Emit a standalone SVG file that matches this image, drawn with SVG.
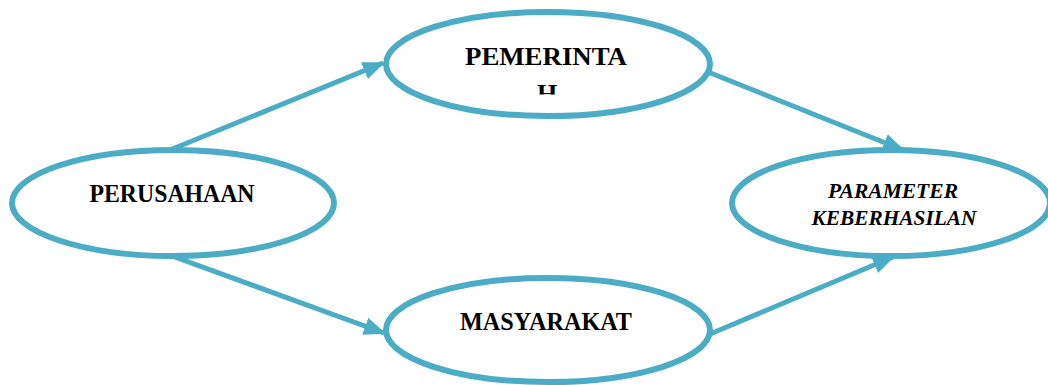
<svg xmlns="http://www.w3.org/2000/svg" width="1048" height="385" viewBox="0 0 1048 385">
<style>
.node{fill:#fff;stroke:#4BACC6;stroke-width:6}
.lbl{font-family:"Liberation Serif","Times New Roman",serif;font-weight:bold;font-size:26px;fill:#000;text-anchor:middle}
.it{font-style:italic;font-size:22px}
.conn{stroke:#4BACC6;stroke-width:5;fill:none;marker-end:url(#ah)}
</style>
<defs>
<marker id="ah" markerUnits="userSpaceOnUse" markerWidth="22" markerHeight="20" refX="20" refY="9" orient="auto">
<path d="M0,0 L22,9 L0,18 z" fill="#4BACC6"/>
</marker>
<clipPath id="clipH"><rect x="380" y="70" width="340" height="24.5"/></clipPath>
</defs>
<g id="connectors">
<line class="conn" x1="170" y1="150" x2="383" y2="63"/>
<line class="conn" x1="708" y1="72" x2="903" y2="150"/>
<line class="conn" x1="172" y1="256" x2="384" y2="333"/>
<line class="conn" x1="710" y1="334" x2="893" y2="257"/>
</g>
<g id="perusahaan">
<ellipse class="node" cx="173" cy="203" rx="161" ry="53"/>
<text class="lbl" x="172" y="202" textLength="165" lengthAdjust="spacingAndGlyphs">PERUSAHAAN</text>
</g>
<g id="pemerintah">
<ellipse class="node" cx="548" cy="64" rx="162" ry="52"/>
<text class="lbl" x="546" y="65" textLength="162" lengthAdjust="spacingAndGlyphs">PEMERINTA</text>
<text class="lbl" x="547" y="102" clip-path="url(#clipH)">H</text>
</g>
<g id="masyarakat">
<ellipse class="node" cx="548" cy="330" rx="162" ry="52"/>
<text class="lbl" x="546" y="330" textLength="172" lengthAdjust="spacingAndGlyphs">MASYARAKAT</text>
</g>
<g id="parameter">
<ellipse class="node" cx="891" cy="203" rx="159" ry="53"/>
<text class="lbl it" x="893" y="198" textLength="130" lengthAdjust="spacingAndGlyphs">PARAMETER</text>
<text class="lbl it" x="894" y="225" textLength="165" lengthAdjust="spacingAndGlyphs">KEBERHASILAN</text>
</g>
</svg>
